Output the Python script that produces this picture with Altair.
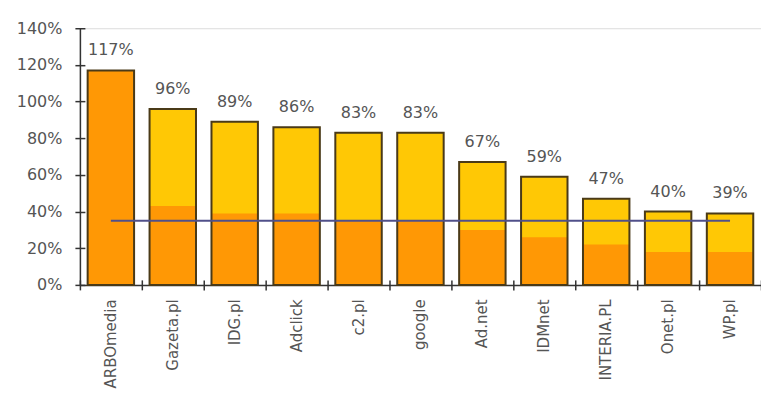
import altair as alt
import pandas as pd

categories = ["ARBOmedia", "Gazeta.pl", "IDG.pl", "Adclick", "c2.pl", "google",
              "Ad.net", "IDMnet", "INTERIA.PL", "Onet.pl", "WP.pl"]
totals = [117, 96, 89, 86, 83, 83, 67, 59, 47, 40, 39]
lower = [117, 43, 39, 39, 35, 35, 30, 26, 22, 18, 18]
labels = ["117%", "96%", "89%", "86%", "83%", "83%", "67%", "59%", "47%", "40%", "39%"]
average = 35

df = pd.DataFrame({"cat": categories, "total": totals, "lower": lower, "label": labels})
line_df = pd.DataFrame({"start": [categories[0]], "end": [categories[-1]], "avg": [average]})

FONT = "DejaVu Sans"
def xscale():
    return alt.Scale(domain=categories, paddingInner=0.25, paddingOuter=0.125)
def yscale():
    return alt.Scale(domain=[0, 140], nice=False)

x_main = alt.X("cat:N", sort=categories, scale=xscale(), title=None,
               axis=alt.Axis(orient="bottom", labelAngle=-90, labelFont=FONT, labelFontSize=15,
                             labelColor="#555", ticks=False, tickSize=0, labelPadding=14,
                             domainColor="#333", domainWidth=1.5, labelLimit=200))
y_main = alt.Y("total:Q", scale=yscale(), title=None,
               axis=alt.Axis(orient="left", values=list(range(0, 141, 20)), format="d",
                             labelExpr="datum.value + '%'", labelFont=FONT, labelFontSize=16,
                             labelColor="#555", ticks=False, tickSize=0, labelPadding=18,
                             domainColor="#333", domainWidth=1.5, grid=False))

x_ticks = alt.X("cat:N", sort=categories,
                scale=alt.Scale(domain=categories, paddingInner=0, paddingOuter=0), title=None,
                axis=alt.Axis(orient="bottom", labels=False, domain=False, ticks=True,
                              tickBand="extent", tickSize=10, offset=-5,
                              tickColor="#333", tickWidth=1.5))
y_ticks = alt.Y("total:Q", scale=yscale(), title=None,
                axis=alt.Axis(orient="left", labels=False, domain=False, ticks=True,
                              values=list(range(0, 141, 20)), tickSize=10, offset=-5,
                              tickColor="#333", tickWidth=1.5, grid=False))

base = alt.Chart(df)

full = base.mark_bar(color="#FFC805").encode(x=x_main, y=y_main)
tick_layer = base.mark_bar(opacity=0).encode(x=x_ticks, y=y_ticks)
low = base.mark_bar(color="#FF9805").encode(
    x=alt.X("cat:N", sort=categories, scale=xscale(), axis=None),
    y=alt.Y("lower:Q", scale=yscale(), axis=None))
outline = base.mark_bar(fillOpacity=0, stroke="#4a3a18", strokeWidth=2).encode(
    x=alt.X("cat:N", sort=categories, scale=xscale(), axis=None),
    y=alt.Y("total:Q", scale=yscale(), axis=None))
text = base.mark_text(font=FONT, fontSize=16, color="#555", baseline="alphabetic", dy=-15).encode(
    x=alt.X("cat:N", sort=categories, scale=xscale(), axis=None),
    y=alt.Y("total:Q", scale=yscale(), axis=None),
    text="label:N")
rule = alt.Chart(line_df).mark_rule(color="#50508a", strokeWidth=2).encode(
    x=alt.X("start:N", scale=xscale(), axis=None),
    x2="end:N",
    y=alt.Y("avg:Q", scale=yscale(), axis=None))

chart = alt.layer(full, tick_layer, low, outline, rule, text).resolve_scale(
    x="independent", y="independent"
).resolve_axis(
    x="independent", y="independent"
).properties(
    width=682, height=257,
    autosize=alt.AutoSizeParams(type="none"),
    padding={"left": 72, "top": 20, "right": 0, "bottom": 110},
).configure_view(stroke=None).configure(background="white")

chart.save("out.html", embed_options={"renderer": "svg", "actions": False})
